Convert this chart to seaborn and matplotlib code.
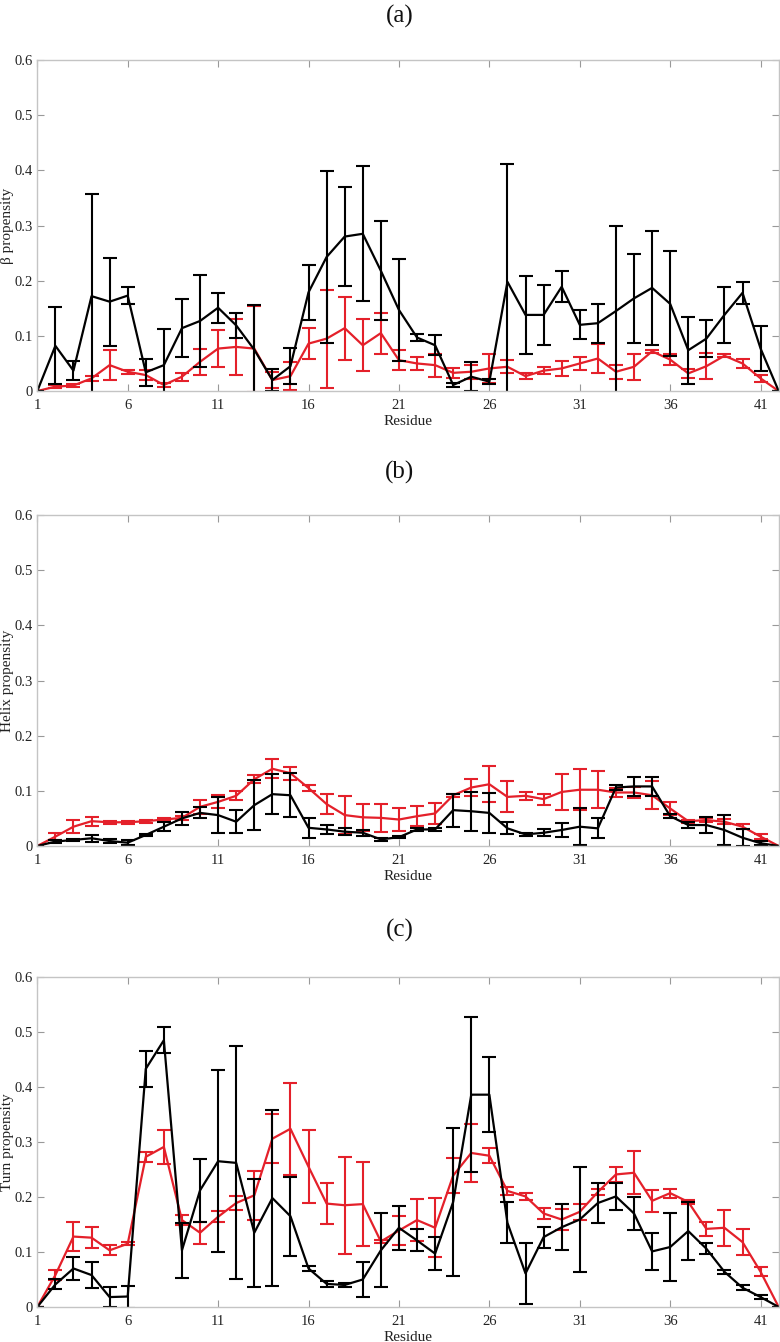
import numpy as np
import pandas as pd
import seaborn as sns
import matplotlib.pyplot as plt

residues = np.arange(1, 43)

# (a) beta propensity
beta_black = [0, 0.082, 0.037, 0.172, 0.162, 0.173, 0.034, 0.047, 0.114, 0.127, 0.151, 0.119, 0.075, 0.020,
              0.045, 0.179, 0.243, 0.280, 0.285, 0.218, 0.147, 0.097, 0.083, 0.011, 0.026, 0.017, 0.198, 0.138,
              0.138, 0.189, 0.120, 0.123, 0.145, 0.168, 0.187, 0.158, 0.074, 0.095, 0.138, 0.178, 0.077, 0.0]
beta_black_err = [0, 0.070, 0.017, 0.185, 0.080, 0.016, 0.024, 0.065, 0.053, 0.083, 0.027, 0.022, 0.081, 0.020,
                  0.033, 0.050, 0.155, 0.089, 0.122, 0.090, 0.092, 0.006, 0.018, 0.004, 0.026, 0.004, 0.213, 0.071,
                  0.055, 0.028, 0.026, 0.035, 0.154, 0.080, 0.103, 0.095, 0.061, 0.033, 0.050, 0.020, 0.040, 0]
beta_red = [0, 0.008, 0.010, 0.023, 0.047, 0.035, 0.029, 0.011, 0.026, 0.053, 0.077, 0.080, 0.077, 0.020,
            0.027, 0.086, 0.095, 0.114, 0.083, 0.105, 0.056, 0.050, 0.047, 0.033, 0.035, 0.041, 0.044, 0.027,
            0.037, 0.041, 0.050, 0.059, 0.035, 0.044, 0.072, 0.057, 0.032, 0.045, 0.064, 0.050, 0.023, 0.0]
beta_red_err = [0, 0.003, 0.003, 0.004, 0.027, 0.004, 0.009, 0.004, 0.007, 0.023, 0.033, 0.050, 0.078, 0.015,
                0.025, 0.028, 0.089, 0.057, 0.047, 0.037, 0.018, 0.011, 0.021, 0.009, 0.013, 0.027, 0.012, 0.005,
                0.006, 0.013, 0.011, 0.026, 0.013, 0.024, 0.003, 0.010, 0.008, 0.024, 0.003, 0.009, 0.007, 0]

# (b) helix propensity
helix_black = [0, 0.008, 0.011, 0.014, 0.009, 0.006, 0.020, 0.035, 0.050, 0.060, 0.056, 0.044, 0.074, 0.094,
               0.092, 0.033, 0.030, 0.026, 0.024, 0.012, 0.016, 0.030, 0.030, 0.065, 0.063, 0.060, 0.032, 0.021,
               0.024, 0.029, 0.035, 0.032, 0.106, 0.108, 0.108, 0.054, 0.038, 0.038, 0.029, 0.015, 0.005, 0]
helix_black_err = [0, 0.003, 0.002, 0.006, 0.004, 0.004, 0.002, 0.008, 0.012, 0.010, 0.033, 0.021, 0.045, 0.036,
                   0.040, 0.018, 0.008, 0.006, 0.005, 0.003, 0.002, 0.003, 0.003, 0.030, 0.035, 0.036, 0.011, 0.003,
                   0.006, 0.012, 0.034, 0.018, 0.004, 0.017, 0.017, 0.004, 0.005, 0.015, 0.027, 0.015, 0.004, 0]
helix_red = [0, 0.017, 0.035, 0.045, 0.043, 0.043, 0.045, 0.048, 0.051, 0.071, 0.080, 0.091, 0.121, 0.140,
             0.132, 0.105, 0.076, 0.056, 0.052, 0.051, 0.048, 0.054, 0.059, 0.092, 0.106, 0.112, 0.089, 0.091,
             0.085, 0.098, 0.102, 0.102, 0.097, 0.097, 0.092, 0.068, 0.045, 0.047, 0.044, 0.035, 0.017, 0]
helix_red_err = [0, 0.006, 0.012, 0.008, 0.003, 0.003, 0.003, 0.002, 0.004, 0.013, 0.012, 0.008, 0.007, 0.017,
                 0.012, 0.005, 0.018, 0.035, 0.024, 0.025, 0.020, 0.018, 0.019, 0.003, 0.016, 0.033, 0.028, 0.007,
                 0.010, 0.033, 0.037, 0.034, 0.009, 0.010, 0.025, 0.011, 0.003, 0.004, 0.005, 0.005, 0.005, 0]

# (c) turn propensity
turn_black = [0, 0.041, 0.070, 0.058, 0.018, 0.019, 0.433, 0.485, 0.103, 0.212, 0.265, 0.262, 0.135, 0.198,
              0.165, 0.070, 0.042, 0.040, 0.050, 0.103, 0.144, 0.121, 0.097, 0.191, 0.386, 0.386, 0.153, 0.061,
              0.127, 0.145, 0.159, 0.189, 0.201, 0.170, 0.101, 0.109, 0.138, 0.106, 0.064, 0.035, 0.018, 0]
turn_black_err = [0, 0.009, 0.021, 0.024, 0.018, 0.020, 0.033, 0.024, 0.050, 0.057, 0.165, 0.212, 0.098, 0.160,
                  0.072, 0.005, 0.006, 0.003, 0.031, 0.067, 0.040, 0.020, 0.030, 0.135, 0.141, 0.068, 0.037, 0.056,
                  0.019, 0.042, 0.095, 0.037, 0.024, 0.030, 0.033, 0.062, 0.052, 0.010, 0.004, 0.005, 0.003, 0]
turn_red = [0, 0.058, 0.128, 0.126, 0.103, 0.115, 0.273, 0.291, 0.158, 0.135, 0.164, 0.189, 0.203, 0.306,
            0.324, 0.255, 0.188, 0.185, 0.187, 0.119, 0.139, 0.158, 0.144, 0.239, 0.280, 0.275, 0.211, 0.201,
            0.170, 0.159, 0.173, 0.209, 0.241, 0.244, 0.193, 0.207, 0.191, 0.142, 0.144, 0.118, 0.064, 0]
turn_red_err = [0, 0.009, 0.027, 0.019, 0.009, 0.003, 0.009, 0.031, 0.009, 0.020, 0.010, 0.012, 0.045, 0.044,
                0.084, 0.066, 0.038, 0.088, 0.076, 0.003, 0.026, 0.038, 0.054, 0.031, 0.053, 0.014, 0.007, 0.007,
                0.010, 0.019, 0.015, 0.006, 0.013, 0.039, 0.020, 0.008, 0.003, 0.013, 0.033, 0.023, 0.008, 0]

panels = [
    ("(a)", "β propensity", beta_black, beta_black_err, beta_red, beta_red_err),
    ("(b)", "Helix propensity", helix_black, helix_black_err, helix_red, helix_red_err),
    ("(c)", "Turn propensity", turn_black, turn_black_err, turn_red, turn_red_err),
]

RED = "#e4202a"
BLACK = "#000000"

sns.set_theme(style="ticks")
plt.rcParams["font.family"] = ["Liberation Serif", "DejaVu Serif"]

W, H = 780, 1342
fig = plt.figure(figsize=(W / 100, H / 100), dpi=100)

# axes boxes in figure fraction: left, bottom, width, height
boxes = [
    (0.0478, 0.7086, 0.9505, 0.2467),
    (0.0478, 0.3696, 0.9505, 0.2466),
    (0.0478, 0.0261, 0.9505, 0.2459),
]
title_y = [16, 472, 930]  # pixel rows from top

for (label, ylab, blk, blk_err, red, red_err), box, ty in zip(panels, boxes, title_y):
    ax = fig.add_axes(box)
    df = pd.DataFrame({"Residue": residues, "black": blk, "red": red})

    # red series first, black on top
    for col, err, color in [("red", red_err, RED), ("black", blk_err, BLACK)]:
        sns.lineplot(data=df, x="Residue", y=col, ax=ax, color=color, linewidth=1.6, legend=False)
        ax.errorbar(df["Residue"], df[col], yerr=err, fmt="none", ecolor=color,
                    elinewidth=1.5, capsize=5.2, capthick=1.5)

    ax.set_xlim(1, 42)
    ax.set_ylim(0, 0.6)
    ax.set_xticks(np.arange(1, 42, 5))
    ax.set_yticks(np.arange(0, 0.61, 0.1))
    ax.set_yticklabels(["0", "0.1", "0.2", "0.3", "0.4", "0.5", "0.6"])
    ax.tick_params(direction="in", top=True, right=True, length=5, width=0.8,
                   color="#999999", labelsize=10.5, labelcolor="#222222")
    ax.tick_params(axis="x", pad=6)
    ax.tick_params(axis="y", pad=3)
    for sp in ax.spines.values():
        sp.set_color("#c4c4c4")
        sp.set_linewidth(1.0)
    ax.set_xlabel("Residue", fontsize=11, labelpad=2, color="#222222")
    ax.set_ylabel(ylab, fontsize=11, color="#222222")
    ax.yaxis.set_label_coords(-0.031, 0.5)

    fig.text(400 / W, 1 - ty / H, label, fontsize=18, ha="center", va="center", color="#111111")

fig.savefig("out.png", dpi=100)
